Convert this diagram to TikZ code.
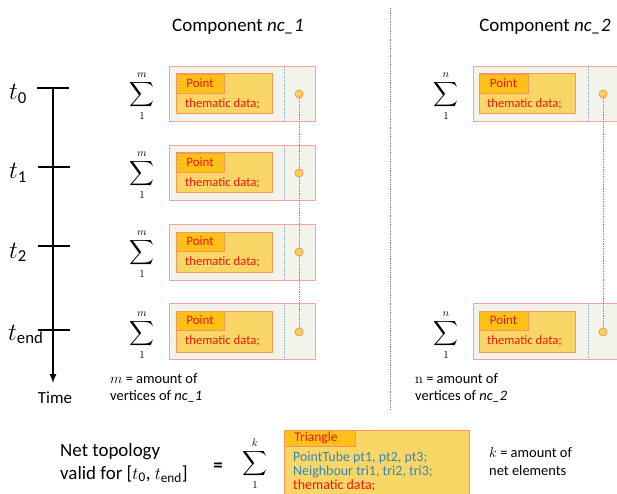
\documentclass[tikz,border=0pt]{standalone}
\usepackage{amsmath}
\usepackage[no-math]{fontspec}
\setmainfont{Carlito}
\usepackage{tikz}
\usetikzlibrary{arrows,positioning}
\definecolor{boxgreen}{RGB}{242,244,236}
\definecolor{boxpink}{RGB}{246,162,160}
\definecolor{pointyellow}{RGB}{250,214,102}
\definecolor{pointorange}{RGB}{246,150,92}
\definecolor{tabamber}{RGB}{255,192,24}
\definecolor{textred}{RGB}{240,22,12}
\definecolor{textblue}{RGB}{52,134,186}
\definecolor{sepblue}{RGB}{160,182,204}

\begin{document}
\begin{tikzpicture}[x=1bp, y=-1bp,
		outerbox/.style={draw=boxpink, fill=boxgreen, line width=1bp},
		pointbox/.style={draw=pointorange, fill=pointyellow, line width=1bp},
		tabbox/.style={draw=pointorange, fill=tabamber, line width=0.8bp},
		innersep/.style={draw=sepblue, densely dotted, line width=0.6bp},
		vertex/.style={circle, draw=pointorange, fill=tabamber!75, minimum size=8bp, inner sep=0pt, line width=0.8bp},
		linkline/.style={draw=gray, densely dotted, line width=0.9bp},
		timeline/.style={line width=2bp},
		heading/.style={font=\fontsize{19}{23}\selectfont, inner sep=0pt},
		pointtext/.style={font=\fontsize{13}{15}\selectfont, text=textred, inner sep=0pt},
		datatext/.style={font=\fontsize{12.7}{15}\selectfont, text=textred, inner sep=0pt, anchor=west},
		tritext/.style={font=\fontsize{14}{16}\selectfont, text=textblue, inner sep=0pt, anchor=west},
		notetext/.style={font=\fontsize{14.5}{17}\selectfont, inner sep=0pt, anchor=west},
		sumsym/.style={font=\fontsize{17}{20}\selectfont, inner sep=0pt},
		limtext/.style={font=\fontsize{10.5}{12}\selectfont, inner sep=0pt},
		ticklabel/.style={font=\fontsize{24}{28}\selectfont, inner sep=0pt, anchor=base west}]

		\useasboundingbox (0,0) rectangle (617,494);

		% component headings and separator
		\node[heading] (compA) at (238,27) {Component \textit{nc\_1}};
		\node[heading] (compB) at (545,27) {Component \textit{nc\_2}};
		\coordinate (sepTop) at (390,8);
		\coordinate (sepBot) at (390,410);
		\draw[linkline, line width=0.8bp] (sepTop) -- (sepBot);

		% time axis
		\coordinate (axisTop) at (53,88);
		\coordinate (axisEnd) at (53,383);
		\draw[timeline, -latex] (axisTop) -- (axisEnd);
		\draw[timeline] (37,88) -- (69,88);
		\draw[timeline] (38,167) -- (70,167);
		\draw[timeline] (38,246) -- (70,246);
		\draw[timeline] (38,330) -- (70,330);
		\node[ticklabel] (tz) at (9,100) {$t_{\text{0}}$};
		\node[ticklabel] (tone) at (9,179) {$t_{\text{1}}$};
		\node[ticklabel] (ttwo) at (9,258) {$t_{\text{2}}$};
		\node[ticklabel] (tend) at (8,340) {$t_{\text{end}}$};
		\node[font=\fontsize{17}{20}\selectfont] (time) at (55,398) {Time};

		% component nc_1, row t0
		\draw[outerbox] (169,67) rectangle (315,122);
		\draw[innersep] (284,67) -- (284,122);
		\draw[pointbox] (176,74) rectangle (272,114);
		\draw[tabbox] (176,74) rectangle (224,93);
		\node[pointtext] (pa0) at (200,83.5) {Point};
		\node[datatext] (da0) at (185,104) {thematic data;};
		\node[vertex] (va0) at (299,94) {};
		\node[sumsym] (sa0) at (142,95) {$\displaystyle\sum$};
		\node[limtext, above=3bp of sa0] (ma0) {$m$};
		\node[limtext, below=3bp of sa0] (oa0) {$1$};

		% component nc_1, row t1
		\draw[outerbox] (169,146) rectangle (315,201);
		\draw[innersep] (284,146) -- (284,201);
		\draw[pointbox] (176,153) rectangle (272,193);
		\draw[tabbox] (176,153) rectangle (224,172);
		\node[pointtext] (pa1) at (200,162.5) {Point};
		\node[datatext] (da1) at (185,183) {thematic data;};
		\node[vertex] (va1) at (299,173) {};
		\node[sumsym] (sa1) at (142,174) {$\displaystyle\sum$};
		\node[limtext, above=3bp of sa1] (ma1) {$m$};
		\node[limtext, below=3bp of sa1] (oa1) {$1$};

		% component nc_1, row t2
		\draw[outerbox] (169,225) rectangle (315,280);
		\draw[innersep] (284,225) -- (284,280);
		\draw[pointbox] (176,232) rectangle (272,272);
		\draw[tabbox] (176,232) rectangle (224,251);
		\node[pointtext] (pa2) at (200,241.5) {Point};
		\node[datatext] (da2) at (185,262) {thematic data;};
		\node[vertex] (va2) at (299,252) {};
		\node[sumsym] (sa2) at (142,253) {$\displaystyle\sum$};
		\node[limtext, above=3bp of sa2] (ma2) {$m$};
		\node[limtext, below=3bp of sa2] (oa2) {$1$};

		% component nc_1, row tend
		\draw[outerbox] (169,303) rectangle (315,359);
		\draw[innersep] (284,303) -- (284,359);
		\draw[pointbox] (176,311) rectangle (272,352);
		\draw[tabbox] (176,311) rectangle (224,330);
		\node[pointtext] (pa3) at (200,320.5) {Point};
		\node[datatext] (da3) at (185,341) {thematic data;};
		\node[vertex] (va3) at (299,332) {};
		\node[sumsym] (sa3) at (142,334) {$\displaystyle\sum$};
		\node[limtext, above=3bp of sa3] (ma3) {$m$};
		\node[limtext, below=3bp of sa3] (oa3) {$1$};

		% component nc_2, row t0
		\draw[outerbox] (473,67) rectangle (625,122);
		\draw[innersep] (588,67) -- (588,122);
		\draw[pointbox] (479,74) rectangle (575,114);
		\draw[tabbox] (479,74) rectangle (528,93);
		\node[pointtext] (pb0) at (503.5,83.5) {Point};
		\node[datatext] (db0) at (487,104) {thematic data;};
		\node[vertex] (vb0) at (603,94) {};
		\node[sumsym] (sb0) at (446,95) {$\displaystyle\sum$};
		\node[limtext, above=3bp of sb0] (nb0) {$n$};
		\node[limtext, below=3bp of sb0] (ob0) {$1$};

		% component nc_2, row tend
		\draw[outerbox] (473,303) rectangle (625,359);
		\draw[innersep] (588,303) -- (588,359);
		\draw[pointbox] (479,311) rectangle (575,352);
		\draw[tabbox] (479,311) rectangle (528,330);
		\node[pointtext] (pb3) at (503.5,320.5) {Point};
		\node[datatext] (db3) at (487,341) {thematic data;};
		\node[vertex] (vb3) at (603,332) {};
		\node[sumsym] (sb3) at (446,334) {$\displaystyle\sum$};
		\node[limtext, above=3bp of sb3] (nb3) {$n$};
		\node[limtext, below=3bp of sb3] (ob3) {$1$};

		% vertex links through time
		\draw[linkline] (va0) -- (va1);
		\draw[linkline] (va1) -- (va2);
		\draw[linkline] (va2) -- (va3);
		\draw[linkline] (vb0) -- (vb3);

		% amounts
		\node[notetext] (noteA1) at (110,379) {$m$ = amount of};
		\node[notetext] (noteA2) at (110,396) {vertices of \textit{nc\_1}};
		\node[notetext] (noteB1) at (415,379) {$\mathrm{n}$ = amount of};
		\node[notetext] (noteB2) at (415,396) {vertices of \textit{nc\_2}};

		% net topology
		\node[heading, anchor=west] (net1) at (60,452) {Net topology};
		\node[heading, anchor=west] (net2) at (60,474) {valid for [$t_{\text{0}}$, $t_{\text{end}}$]};
		\node[heading] (eq) at (218,467) {\textbf{=}};
		\node[sumsym] (sk) at (255,464) {$\displaystyle\sum$};
		\node[limtext, above=3bp of sk] (kk) {$k$};
		\node[limtext, below=3bp of sk] (ok) {$1$};
		\draw[pointbox] (284,430) rectangle (469,500);
		\draw[tabbox] (284,430) rectangle (355,446);
		\node[pointtext, font=\fontsize{13.5}{16}\selectfont] (tri) at (316,438) {Triangle};
		\node[tritext] (tube) at (293,458) {PointTube pt1, pt2, pt3;};
		\node[tritext] (nbr) at (293,472) {Neighbour tri1, tri2, tri3;};
		\node[tritext, text=textred] (tdata) at (293,486) {thematic data;};
		\node[notetext] (noteK1) at (489,453) {$k$ = amount of};
		\node[notetext] (noteK2) at (489,471) {net elements};

\end{tikzpicture}
\end{document}
